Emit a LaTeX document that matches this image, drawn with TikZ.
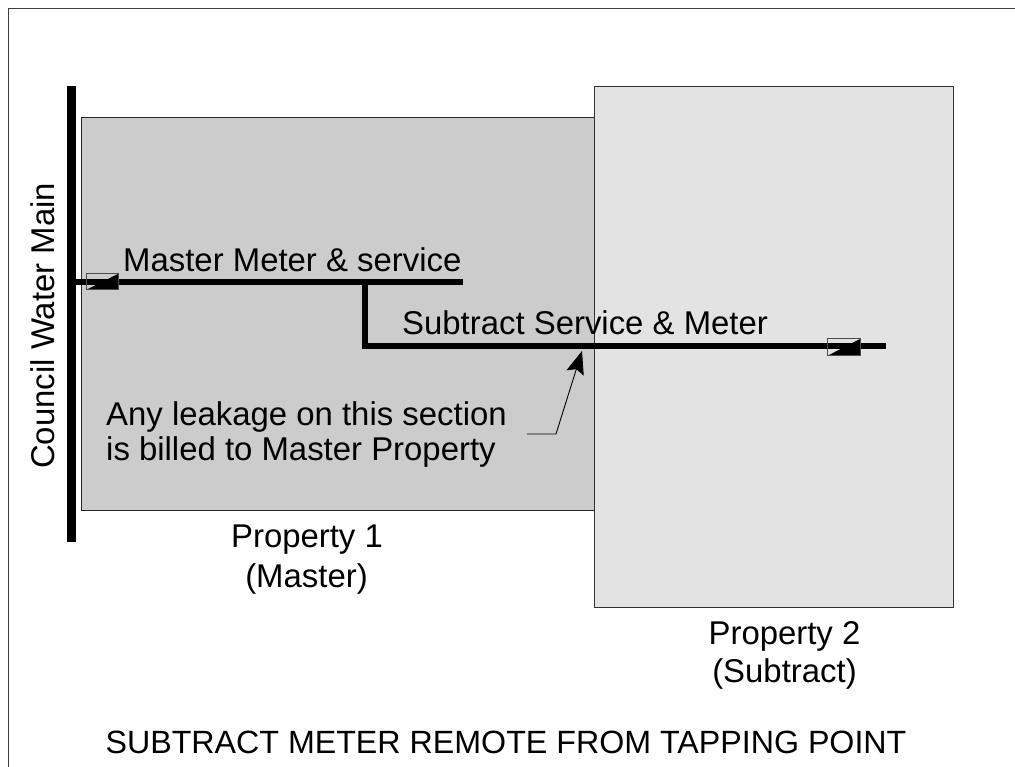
\documentclass[tikz,border=0pt]{standalone}
\usepackage{fontspec}
\setmainfont{Liberation Sans}
\usetikzlibrary{arrows.meta}
\tikzset{
  px/.style={x=1pt,y=-1pt},
  pipe/.style={line width=5.4pt,black},
  mainpipe/.style={line width=8.6pt,black},
  meterbox/.style={draw=black!70,line width=1pt,fill=none,inner sep=0pt},
  wedge/.style={fill=black,draw=none},
  label/.style={font=\fontsize{32.9}{38}\selectfont,inner sep=0pt,anchor=base west},
  labelc/.style={font=\fontsize{32.9}{38}\selectfont,inner sep=0pt,anchor=base},
  leader/.style={draw=black,line width=0.9pt},
}
\begin{document}
\begin{tikzpicture}[px]
\useasboundingbox (0,0) rectangle (1015,767);
% page frame (top and left only)
\coordinate (frameBL) at (8.5,767);
\coordinate (frameTL) at (8.5,8.5);
\coordinate (frameTR) at (1015,8.5);
\draw[black!75,line width=1.1pt] (frameBL) -- (frameTL) -- (frameTR);
% properties
\fill[black!20] (81,118) rectangle (594,510);
\draw[black!85,line width=1pt] (81,510) -- (81,118) -- (594,118) -- (594,510) -- cycle;
\fill[black!11] (594,87) rectangle (953,607);
\draw[black!80,line width=1pt] (594,607) -- (594,87) -- (953,87) -- (953,607) -- cycle;
% water main
\coordinate (mainT) at (71.3,86);
\coordinate (mainB) at (71.3,542);
\draw[mainpipe] (mainT) -- (mainB);
% pipes
\coordinate (tap) at (71.3,282);
\coordinate (masterEnd) at (463,282);
\coordinate (tee) at (365,282);
\coordinate (elbow) at (365,346);
\coordinate (subEnd) at (886,346);
\draw[pipe] (tap) -- (masterEnd);
\draw[pipe,line join=miter] (tee) -- (elbow) -- (subEnd);
% meters
\fill[wedge] (86,290) -- (118,274) -- (118,290) -- cycle;
\draw[meterbox] (86,274) rectangle (118,290);
\fill[wedge] (827,356) -- (860,339) -- (860,356) -- cycle;
\draw[meterbox] (827,339) rectangle (860,356);
% leader
\coordinate (ldA) at (527,434);
\coordinate (ldB) at (556,434);
\coordinate (ldC) at (582,351);
\draw[leader,-{Stealth[length=23pt,width=18pt,inset=4pt]}] (ldA) -- (ldB) -- (ldC);
% labels
\node[label] (lmaster) at (123,272) {Master Meter \& service};
\node[label] (lsub) at (402,335) {Subtract Service \& Meter};
\node[label] (lleak1) at (106,425) {Any leakage on this section};
\node[label] (lleak2) at (106,460) {is billed to Master Property};
\node[labelc] (lp1a) at (307,547) {Property 1};
\node[labelc] (lp1b) at (306.5,587) {(Master)};
\node[labelc] (lp2a) at (784.5,644) {Property 2};
\node[labelc] (lp2b) at (784.5,682) {(Subtract)};
\node[labelc,font=\fontsize{32.2}{38}\selectfont] (ltitle) at (506,753) {SUBTRACT METER REMOTE FROM TAPPING POINT};
\node[label,rotate=90] (lmain) at (54,469) {Council Water Main};
\end{tikzpicture}
\end{document}
